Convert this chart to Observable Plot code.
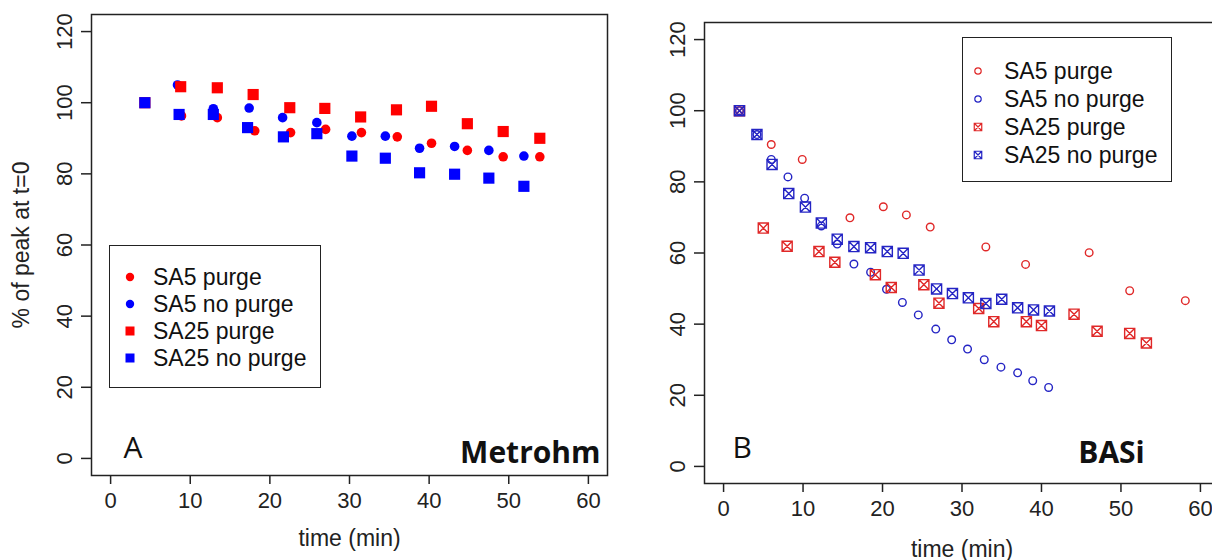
<!DOCTYPE html>
<html><head><meta charset="utf-8">
<script src="https://cdn.jsdelivr.net/npm/d3@7"></script>
<script src="https://cdn.jsdelivr.net/npm/@observablehq/plot@0.6"></script>
<style>
html,body{margin:0;padding:0;background:#fff;overflow:hidden;width:1212px;height:560px;}
#wrap{position:relative;width:1212px;height:560px;overflow:hidden;font-family:"Liberation Sans",Arial,sans-serif;background:#fff;}
.panel{position:absolute;top:0;}
.legend{position:absolute;border:1.5px solid #222;background:#fff;box-sizing:border-box;}
.legend .lab{position:absolute;font-size:23px;line-height:23px;color:#111;white-space:nowrap;transform:translateY(-50%);}
.legend svg{position:absolute;overflow:visible;}
</style></head>
<body><div id="wrap"></div>
<script>
// ---------- data ----------
const seriesNames = ["SA5 purge", "SA5 no purge", "SA25 purge", "SA25 no purge"];
const xTicks = [0, 10, 20, 30, 40, 50, 60];
const yTicks = [0, 20, 40, 60, 80, 100, 120];
const xTitle = "time (min)";
const yTitle = "% of peak at t=0";

// Panel A (Metrohm)
const A_SA5_purge_t    = [4.3, 8.9, 13.4, 18.1, 22.6, 27.0, 31.5, 36.0, 40.3, 44.8, 49.3, 53.9];
const A_SA5_purge_y    = [100, 96.3, 95.8, 92.1, 91.6, 92.5, 91.6, 90.4, 88.6, 86.6, 84.8, 84.8];
const A_SA5_nopurge_t  = [4.3, 8.4, 12.9, 17.4, 21.6, 25.9, 30.3, 34.5, 38.8, 43.2, 47.5, 51.9];
const A_SA5_nopurge_y  = [100, 105.0, 98.3, 98.5, 95.8, 94.4, 90.6, 90.6, 87.2, 87.7, 86.6, 85.0];
const A_SA25_purge_t   = [4.3, 8.8, 13.4, 17.9, 22.5, 26.9, 31.4, 35.9, 40.3, 44.8, 49.3, 53.9];
const A_SA25_purge_y   = [100, 104.5, 104.2, 102.3, 98.6, 98.4, 96.0, 98.0, 99.0, 94.1, 91.9, 90.0];
const A_SA25_nopurge_t = [4.3, 8.6, 12.9, 17.2, 21.7, 25.9, 30.3, 34.5, 38.8, 43.2, 47.5, 51.9];
const A_SA25_nopurge_y = [100, 96.7, 96.7, 93.0, 90.4, 91.3, 85.0, 84.4, 80.3, 79.9, 78.8, 76.5];

// Panel B (BASi)
const B_SA5_purge_t    = [2.0, 6.0, 9.9, 15.9, 20.1, 23.0, 26.0, 33.0, 38.0, 46.0, 51.1, 58.1];
const B_SA5_purge_y    = [100, 90.5, 86.3, 69.9, 73.0, 70.7, 67.3, 61.7, 56.8, 60.1, 49.4, 46.6];
const B_SA5_nopurge_t  = [2.0, 4.2, 6.0, 8.1, 10.2, 12.3, 14.3, 16.4, 18.5, 20.5, 22.5, 24.5, 26.7, 28.7, 30.7, 32.8, 34.9, 37.0, 38.9, 40.9];
const B_SA5_nopurge_y  = [100, 93.3, 86.3, 81.4, 75.4, 67.6, 62.5, 56.9, 54.6, 49.8, 46.1, 42.6, 38.6, 35.6, 33.0, 30.0, 27.9, 26.3, 24.1, 22.2];
const B_SA25_purge_t   = [2.0, 5.0, 8.0, 12.0, 14.0, 19.1, 21.1, 25.2, 27.1, 32.1, 34.0, 38.1, 40.0, 44.1, 47.0, 51.1, 53.2];
const B_SA25_purge_y   = [100, 67.0, 61.9, 60.4, 57.4, 53.9, 50.3, 51.1, 45.9, 44.4, 40.7, 40.7, 39.6, 42.8, 38.0, 37.4, 34.7];
const B_SA25_nopurge_t = [2.0, 4.2, 6.1, 8.2, 10.3, 12.3, 14.3, 16.4, 18.5, 20.6, 22.6, 24.6, 26.8, 28.8, 30.8, 33.0, 35.0, 37.0, 39.0, 41.0];
const B_SA25_nopurge_y = [100, 93.3, 84.9, 76.7, 72.9, 68.4, 63.9, 61.8, 61.5, 60.4, 59.9, 55.2, 49.9, 48.6, 47.4, 45.8, 47.0, 44.6, 44.0, 43.7];

// ---------- helpers ----------
const zip = (ts, ys) => ts.map((t, i) => ({t, v: ys[i]}));
const squareCross = {
  draw(ctx, size) {
    const s = Math.sqrt(size) / 2;
    ctx.moveTo(-s, -s); ctx.lineTo(s, -s); ctx.lineTo(s, s); ctx.lineTo(-s, s); ctx.closePath();
    ctx.moveTo(-s, -s); ctx.lineTo(s, s);
    ctx.moveTo(s, -s); ctx.lineTo(-s, s);
  }
};
const redA = "#ff0000", blueA = "#0000ff";
const redB = "#e02828", blueB = "#2424c4";
const ink = "#222";

function basePlot(cfg) {
  return Plot.plot({
    width: cfg.width, height: 560,
    marginLeft: cfg.ml, marginRight: cfg.mr, marginTop: cfg.mt, marginBottom: cfg.mb,
    style: {background: "transparent", color: ink, fontFamily: '"Liberation Sans", Arial, sans-serif'},
    x: {domain: [-2.4, 62.4]},
    y: {domain: [-4.8, 124.8]},
    marks: [
      Plot.frame({stroke: ink, strokeWidth: 1.5}),
      Plot.axisX({ticks: xTicks, tickSize: 9, tickPadding: 8, fontSize: 22, strokeWidth: 1.5, label: null}),
      Plot.axisY({ticks: yTicks, tickSize: 10, tickPadding: 10, tickRotate: -90, fontSize: 22, strokeWidth: 1.5, label: null}),
      Plot.text([xTitle], {text: d => d, frameAnchor: "bottom", dy: cfg.xTitleDy, lineAnchor: "bottom", textAnchor: "middle", fontSize: 23}),
      ...(cfg.yTitle ? [Plot.text([cfg.yTitle], {text: d => d, frameAnchor: "left", rotate: -90, dx: -63, lineAnchor: "bottom", textAnchor: "middle", fontSize: 23})] : []),
      ...cfg.dataMarks,
      Plot.text([cfg.letter], {text: d => d, frameAnchor: "bottom-left", dx: cfg.letterDx, dy: cfg.letterDy, textAnchor: "start", lineAnchor: "bottom", fontSize: 30, fontFamily: '"Open Sans"', fill: "#111"}),
      Plot.text([cfg.brand], {text: d => d, frameAnchor: "bottom-right", dx: cfg.brandDx, dy: cfg.brandDy, textAnchor: cfg.brandAnchor, lineAnchor: "bottom", fontSize: 30, fontWeight: 700, fontFamily: '"Open Sans"', fill: "#111"})
    ]
  });
}

// ---------- panel A ----------
const plotA = basePlot({
  width: 620, ml: 91, mr: 13, mt: 14, mb: 85, xTitleDy: 70, yTitle: yTitle,
  letter: "A", letterDx: 32, letterDy: -18,
  brand: "Metrohm", brandAnchor: "end", brandDx: -7, brandDy: -13,
  dataMarks: [
    Plot.dot(zip(A_SA5_purge_t, A_SA5_purge_y), {x: "t", y: "v", r: 4.8, fill: redA, stroke: "none"}),
    Plot.dot(zip(A_SA5_nopurge_t, A_SA5_nopurge_y), {x: "t", y: "v", r: 4.8, fill: blueA, stroke: "none"}),
    Plot.dot(zip(A_SA25_purge_t, A_SA25_purge_y), {x: "t", y: "v", r: 6.3, symbol: "square", fill: redA, stroke: "none"}),
    Plot.dot(zip(A_SA25_nopurge_t, A_SA25_nopurge_y), {x: "t", y: "v", r: 6.3, symbol: "square", fill: blueA, stroke: "none"})
  ]
});

// ---------- panel B ----------
const plotB = basePlot({
  width: 600, ml: 84, mr: 1, mt: 22, mb: 77, xTitleDy: 73, yTitle: null,
  letter: "B", letterDx: 28, letterDy: -26,
  brand: "BASi", brandAnchor: "middle", brandDx: -108, brandDy: -21,
  dataMarks: [
    Plot.dot(zip(B_SA5_purge_t, B_SA5_purge_y), {x: "t", y: "v", r: 3.8, stroke: redB, strokeWidth: 1.4, fill: "none"}),
    Plot.dot(zip(B_SA5_nopurge_t, B_SA5_nopurge_y), {x: "t", y: "v", r: 3.8, stroke: blueB, strokeWidth: 1.4, fill: "none"}),
    Plot.dot(zip(B_SA25_purge_t, B_SA25_purge_y), {x: "t", y: "v", r: 5.7, symbol: squareCross, stroke: redB, strokeWidth: 1.4, fill: "none"}),
    Plot.dot(zip(B_SA25_nopurge_t, B_SA25_nopurge_y), {x: "t", y: "v", r: 5.7, symbol: squareCross, stroke: blueB, strokeWidth: 1.4, fill: "none"})
  ]
});

const wrap = document.getElementById("wrap");
plotA.classList.add("panel"); plotA.style.left = "0px";
plotB.classList.add("panel"); plotB.style.left = "620px";
wrap.appendChild(plotA);
wrap.appendChild(plotB);

// ---------- legends ----------
function legend(box, rows, markerX, textX, markers) {
  const div = document.createElement("div");
  div.className = "legend";
  Object.assign(div.style, {left: box[0] + "px", top: box[1] + "px", width: box[2] + "px", height: box[3] + "px"});
  seriesNames.forEach((name, i) => {
    const svg = d3.create("svg").attr("width", 1).attr("height", 1)
      .style("left", markerX + "px").style("top", rows[i] + "px");
    markers[i](svg);
    div.appendChild(svg.node());
    const lab = document.createElement("div");
    lab.className = "lab";
    lab.style.left = textX + "px";
    lab.style.top = rows[i] + "px";
    lab.textContent = name;
    div.appendChild(lab);
  });
  wrap.appendChild(div);
}
const sym = (type, size) => d3.symbol(type, size)();
legend([109, 245, 212, 143], [31, 58, 85, 112], 20, 43, [
  s => s.append("circle").attr("r", 4.2).attr("fill", redA),
  s => s.append("circle").attr("r", 4.2).attr("fill", blueA),
  s => s.append("rect").attr("x", -4.5).attr("y", -4.5).attr("width", 9).attr("height", 9).attr("fill", redA),
  s => s.append("rect").attr("x", -4.5).attr("y", -4.5).attr("width", 9).attr("height", 9).attr("fill", blueA)
]);
legend([962, 37, 210, 145], [33, 61, 89, 117], 15, 41, [
  s => s.append("circle").attr("r", 3.2).attr("fill", "none").attr("stroke", redB).attr("stroke-width", 1.2),
  s => s.append("circle").attr("r", 3.2).attr("fill", "none").attr("stroke", blueB).attr("stroke-width", 1.2),
  s => s.append("path").attr("d", sym(squareCross, 56)).attr("fill", "none").attr("stroke", redB).attr("stroke-width", 1.2),
  s => s.append("path").attr("d", sym(squareCross, 56)).attr("fill", "none").attr("stroke", blueB).attr("stroke-width", 1.2)
]);
</script>
</body></html>
